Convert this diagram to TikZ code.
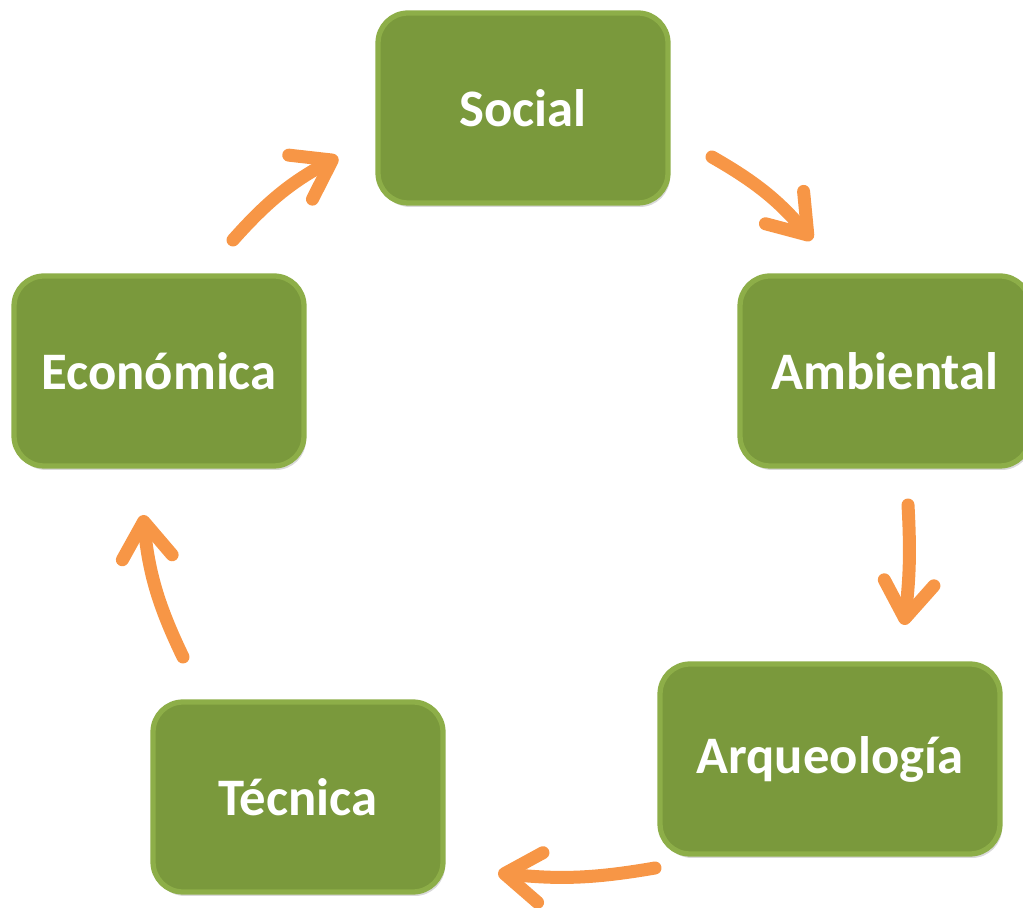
\documentclass[tikz,border=0pt]{standalone}
\usepackage{fontspec}
\setmainfont{Carlito}
\usetikzlibrary{arrows.meta,shadows,positioning}
\definecolor{boxgreen}{HTML}{7A993C}
\definecolor{boxrim}{HTML}{8DAE48}
\definecolor{arroworange}{HTML}{F79646}

\begin{document}
\begin{tikzpicture}[x=0.02cm,y=0.02cm,cap=round,
    >={Straight Barb[round,length=0.72cm,width=1.0cm]},
    topic/.style={rounded corners=0.6cm,fill=boxgreen,draw=boxrim,line width=3pt,
      minimum width=5.8cm,minimum height=3.8cm,text=white,
      font=\fontsize{30}{36}\selectfont\bfseries,
      drop shadow={opacity=0.3,shadow xshift=0.04cm,shadow yshift=-0.08cm}},
    cycle/.style={arroworange,line width=0.26cm,->}]
  \useasboundingbox (0,0) rectangle (1023,908);
  % the five aspects
  \node [topic] (social) at (523,800) {Social};
  \node [topic] (ambiental) at (885,537) {Ambiental};
  \node [topic,minimum width=6.8cm] (arqueologia) at (830,149) {Arqueología};
  \node [topic] (tecnica) at (298,111) {Técnica};
  \node [topic] (economica) at (159,537) {Económica};
  % ends of the arrows between the boxes
  \coordinate (s-a1) at (712,751); \coordinate (s-a2) at (812,668);
  \coordinate (a-q1) at (908,403); \coordinate (a-q2) at (904,283);
  \coordinate (q-t1) at (655,40);  \coordinate (q-t2) at (498,35);
  \coordinate (t-e1) at (183,251); \coordinate (t-e2) at (143,393);
  \coordinate (e-s1) at (233,668); \coordinate (e-s2) at (338,751);
  % the cycle, clockwise
  \draw [cycle] (s-a1) to[bend left=10] (s-a2);
  \draw [cycle] (a-q1) to[bend left=5] (a-q2);
  \draw [cycle] (q-t1) to[bend left=8] (q-t2);
  \draw [cycle] (t-e1) to[bend left=10] (t-e2);
  \draw [cycle] (e-s1) to[bend left=10] (e-s2);
\end{tikzpicture}
\end{document}
